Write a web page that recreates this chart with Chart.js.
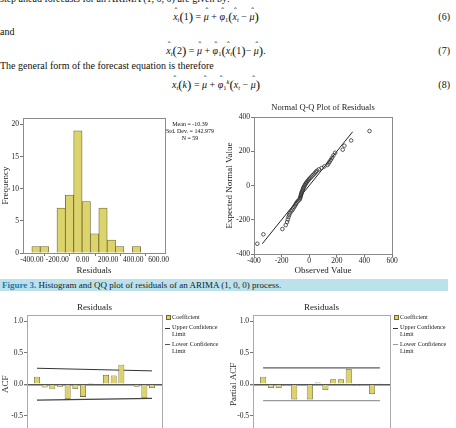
<!DOCTYPE html>
<html>
<head>
<meta charset="utf-8">
<script src="https://cdn.jsdelivr.net/npm/chart.js@4.4.1/dist/chart.umd.min.js"></script>
<style>
  body { margin: 0; width: 456px; height: 428px; overflow: hidden; background: #fff;
         font-family: "Liberation Serif", serif; color: #111; position: relative; }
  .abs { position: absolute; }
  .txt { position: absolute; left: 0; font-size: 10px; line-height: 12px; white-space: nowrap; }
  .eq { position: absolute; left: 0; width: 432px; text-align: center; font-size: 10px; line-height: 12px; white-space: nowrap; }
  .eq i { font-style: italic; }
  .eq sub { font-size: 6.5px; vertical-align: -2px; line-height: 0; }
  .eq sup { font-size: 6.5px; vertical-align: 4px; line-height: 0; }
  .eq .p { font-size: 13px; vertical-align: -1px; }
  .h { position: relative; display: inline-block; }
  .h::before { content: "\02C6"; position: absolute; left: 1px; right: 0; top: -3px; text-align: center;
               font-style: normal; font-size: 8px; line-height: 8px; }
  .num { position: absolute; right: 6px; font-size: 10px; line-height: 12px; }
  .caption { position: absolute; left: 0; top: 279px; width: 448px; height: 12px; background: #bbe1eb;
             font-size: 9px; line-height: 12px; white-space: nowrap; padding-left: 2px; box-sizing: border-box; color: #1a1a1a; }
  .caption b { color: #2679ae; }
  .stats { position: absolute; left: 160px; width: 60px; top: 121px; text-align: center; font-size: 6px; line-height: 7px; }
  .leg { position: absolute; font-size: 6.2px; line-height: 6.5px; color: #222; }
  .leg .sq { position: absolute; width: 3px; height: 3px; background: rgb(220,211,108); border: 0.8px solid #6e682d; }
  .leg .ln { position: absolute; width: 5px; height: 0; border-top: 1px solid #333; }
  .leg .t { position: absolute; white-space: nowrap; }
</style>
</head>
<body>

<div class="txt" style="top:-7px">step ahead forecasts for an ARIMA (1, 0, 0) are given by:</div>
<div class="eq" style="top:11px"><i class="h">x</i><sub><i>t</i></sub><span class="p">(</span>1<span class="p">)</span> = <i class="h">&mu;</i> + <i class="h">&phi;</i><sub>1</sub><span class="p">(</span><i class="h">x</i><sub><i>t</i></sub> &minus; <i class="h">&mu;</i><span class="p">)</span></div>
<div class="num" style="top:11px">(6)</div>
<div class="txt" style="top:26px">and</div>
<div class="eq" style="top:45px"><i class="h">x</i><sub><i>t</i></sub><span class="p">(</span>2<span class="p">)</span> = <i class="h">&mu;</i> + <i class="h">&phi;</i><sub>1</sub><span class="p">(</span><i class="h">x</i><sub><i>t</i></sub><span class="p">(</span>1<span class="p">)</span>&minus; <i class="h">&mu;</i><span class="p">)</span>.</div>
<div class="num" style="top:45px">(7)</div>
<div class="txt" style="top:60px">The general form of the forecast equation is therefore</div>
<div class="eq" style="top:79px"><i class="h">x</i><sub><i>t</i></sub><span class="p">(</span><i>k</i><span class="p">)</span> = <i class="h">&mu;</i> + <i class="h">&phi;</i><sub>1</sub><sup><i>k</i></sup><span class="p">(</span><i>x</i><sub><i>t</i></sub> &minus; <i class="h">&mu;</i><span class="p">)</span></div>
<div class="num" style="top:79px">(8)</div>

<canvas id="hist" class="abs" width="230" height="166" style="left:0;top:110px"></canvas>
<div class="stats" id="stats"></div>
<canvas id="qq" class="abs" width="232" height="176" style="left:224px;top:100px"></canvas>

<div class="caption"><b>Figure 3.</b> Histogram and QQ plot of residuals of an ARIMA (1, 0, 0) process.</div>

<canvas id="acf" class="abs" width="228" height="200" style="left:0;top:293px"></canvas>
<canvas id="pacf" class="abs" width="228" height="200" style="left:228px;top:293px"></canvas>

<div class="leg" style="left:165px;top:313px">
  <div class="sq" style="left:1px;top:2px"></div><div class="t" style="left:7px;top:1px">Coefficient</div>
  <div class="ln" style="left:0;top:14.5px"></div><div class="t" style="left:7px;top:11px">Upper Confidence<br>Limit</div>
  <div class="ln" style="left:0;top:31px;border-color:#555"></div><div class="t" style="left:7px;top:28px">Lower Confidence<br>Limit</div>
</div>
<div class="leg" style="left:393px;top:313px">
  <div class="sq" style="left:1px;top:2px"></div><div class="t" style="left:7px;top:1px">Coefficient</div>
  <div class="ln" style="left:0;top:14.5px"></div><div class="t" style="left:7px;top:11px">Upper Confidence<br>Limit</div>
  <div class="ln" style="left:0;top:31px;border-color:#999"></div><div class="t" style="left:7px;top:28px">Lower Confidence<br>Limit</div>
</div>

<script>
// histogram of residuals
const histBinCenters = [-367, -301, -235, -169, -103, -37, 29, 95, 161, 227, 293, 359, 425];
const histCounts = [1, 1, 0, 7, 9, 19, 8, 3, 7, 2, 1, 0, 1];
const histXTicks = [-400, -200, 0, 200, 400, 600];
const histYTicks = [0, 5, 10, 15, 20];
const histStats = ["Mean = -10.39", "Std. Dev. = 142.979", "N = 59"];

// normal Q-Q plot (sorted residuals vs expected normal value)
const qqObserved = [-376, -332, -194, -170, -160, -155, -150, -145, -140, -130, -122, -115, -108, -102, -97,
  -92, -85, -76, -68, -66, -63, -61, -59, -57, -55, -52, -49, -46, -43, -40, -36, -32, -28, -23, -18, -12, -6,
  0, 8, 16, 24, 32, 40, 48, 57, 70, 90, 110, 132, 140, 148, 157, 166, 176, 188, 243, 255, 304, 437];
const qqExpected = [-340, -285, -254, -231, -213, -198, -184, -172, -161, -151, -142, -133, -124, -116, -108,
  -101, -93, -86, -80, -73, -66, -60, -53, -47, -41, -35, -29, -23, -16, -10, -5, 2, 8, 14, 20, 26, 32,
  39, 45, 52, 59, 65, 72, 80, 87, 95, 103, 112, 121, 130, 140, 151, 163, 177, 192, 210, 233, 264, 319];
const qqLineEnds = [-340, 315];
const qqXTicks = [-400, -200, 0, 200, 400, 600];
const qqYTicks = [-400, -200, 0, 200, 400];

// ACF / PACF of residuals
const lags = [1, 2, 3, 4, 5, 6, 7, 8, 9, 10, 11, 12, 13, 14, 15, 16];
const acfValues = [0.12, -0.05, -0.08, -0.04, -0.235, -0.075, -0.20, 0.02, -0.015, 0.15, 0.14, 0.31, 0.0, -0.04, -0.22, -0.06];
const acfLimitLags = [1, 16];
const acfUpper = [0.255, 0.213];
const acfLower = [-0.25, -0.222];
const pacfValues = [0.12, -0.06, -0.06, -0.025, -0.24, -0.02, -0.24, 0.03, -0.09, 0.08, 0.08, 0.245, -0.025, -0.01, -0.155, 0.015];
const pacfUpper = [0.26, 0.26];
const pacfLower = [-0.26, -0.26];
const corrTicks = [-1.0, -0.5, 0.0, 0.5, 1.0];

Chart.defaults.font.family = "'Liberation Serif', serif";
Chart.defaults.color = "#222";

const barFill = "rgb(220,211,108)";
const barEdge = "#6e682d";

const frame = {
  id: "frame",
  beforeDatasetsDraw(chart, args, opts) {
    const a = chart.chartArea, ctx = chart.ctx;
    ctx.save();
    ctx.strokeStyle = opts.color || "#888";
    ctx.lineWidth = 1;
    ctx.strokeRect(Math.round(a.left) + 0.5, Math.round(a.top) + 0.5,
      Math.round(a.right - a.left), Math.round(a.bottom - a.top));
    ctx.restore();
  }
};

const setTicks = vals => s => { s.ticks = vals.map(v => ({ value: v })); };
const fixW = w => s => { s.width = w; };
const fixH = h => s => { s.height = h; };
const tickFont = { size: 7.5 };
const titleFont = { size: 9 };
const plainGrid = { drawOnChartArea: false, drawTicks: true, tickLength: 3, color: "#777" };

document.getElementById("stats").innerHTML = histStats.join("<br>");

new Chart(document.getElementById("hist"), {
  type: "bar",
  data: {
    datasets: [{
      data: histBinCenters.map((x, i) => ({ x: x, y: histCounts[i] })),
      backgroundColor: barFill, borderColor: barEdge, borderWidth: 0.8,
      barPercentage: 1, categoryPercentage: 1
    }]
  },
  options: {
    responsive: false, animation: false, devicePixelRatio: 1,
    layout: { padding: { top: 8, right: 65, bottom: 0, left: 0 } },
    plugins: { legend: { display: false }, tooltip: { enabled: false }, frame: { color: "#8a8a8a" } },
    scales: {
      x: {
        type: "linear", offset: false, min: -470, max: 650,
        afterBuildTicks: setTicks(histXTicks), afterFit: fixH(23),
        grid: plainGrid, border: { display: false },
        ticks: { font: tickFont, padding: 0, maxRotation: 0, autoSkip: false, callback: v => v.toFixed(2) },
        title: { display: true, text: "Residuals", font: titleFont, padding: 0 }
      },
      y: {
        min: 0, max: 21,
        afterBuildTicks: setTicks(histYTicks), afterFit: fixW(23),
        grid: plainGrid, border: { display: false },
        ticks: { font: tickFont, padding: 1 },
        title: { display: true, text: "Frequency", font: titleFont, padding: 0 }
      }
    }
  },
  plugins: [frame]
});

new Chart(document.getElementById("qq"), {
  type: "scatter",
  data: {
    datasets: [{
      data: qqObserved.map((x, i) => ({ x: x, y: qqExpected[i] })),
      pointRadius: 1.8, pointBorderWidth: 0.8, pointBackgroundColor: "rgba(255,255,255,0)",
      pointBorderColor: "#333"
    }, {
      type: "line",
      data: qqLineEnds.map(v => ({ x: v, y: v })),
      borderColor: "#222", borderWidth: 1, pointRadius: 0, showLine: true
    }]
  },
  options: {
    responsive: false, animation: false, devicePixelRatio: 1,
    layout: { padding: { top: 0, right: 64, bottom: 0, left: 0 } },
    plugins: {
      legend: { display: false }, tooltip: { enabled: false }, frame: { color: "#8a8a8a" },
      title: { display: true, fullSize: false, text: "Normal Q-Q Plot of Residuals", font: { size: 8.5, weight: "normal" },
               color: "#222", padding: { top: 3, bottom: 4 } }
    },
    scales: {
      x: {
        type: "linear", min: -400, max: 600,
        afterBuildTicks: setTicks(qqXTicks), afterFit: fixH(22),
        grid: plainGrid, border: { display: false },
        ticks: { font: tickFont, padding: 0, maxRotation: 0, autoSkip: false },
        title: { display: true, text: "Observed Value", font: titleFont, padding: 0 }
      },
      y: {
        min: -400, max: 400,
        afterBuildTicks: setTicks(qqYTicks), afterFit: fixW(30),
        grid: plainGrid, border: { display: false },
        ticks: { font: tickFont, padding: 1 },
        title: { display: true, text: "Expected Normal Value", font: titleFont, padding: 0 }
      }
    }
  },
  plugins: [frame]
});

function corrChart(id, values, upper, lower, lowerColor, yTitle, yWidth) {
  new Chart(document.getElementById(id), {
    type: "bar",
    data: {
      datasets: [{
        data: lags.map((l, i) => ({ x: l, y: values[i] })),
        backgroundColor: barFill, borderColor: barEdge, borderWidth: 0.8,
        barPercentage: 0.78, categoryPercentage: 1
      }, {
        type: "line", data: acfLimitLags.map((l, i) => ({ x: l, y: upper[i] })),
        borderColor: "#333", borderWidth: 1, pointRadius: 0
      }, {
        type: "line", data: acfLimitLags.map((l, i) => ({ x: l, y: lower[i] })),
        borderColor: lowerColor, borderWidth: 1.2, pointRadius: 0
      }]
    },
    options: {
      responsive: false, animation: false, devicePixelRatio: 1,
      layout: { padding: { top: 0, right: 66, bottom: 0, left: 0 } },
      plugins: {
        legend: { display: false }, tooltip: { enabled: false }, frame: { color: "#aaa" },
        title: { display: true, fullSize: false, text: "Residuals", font: { size: 9, weight: "normal" },
                 color: "#222", padding: { top: 9.6, bottom: 1.6 } }
      },
      scales: {
        x: {
          type: "linear", offset: false, min: -0.3, max: 17.3,
          afterBuildTicks: setTicks(lags), afterFit: fixH(39.4),
          grid: plainGrid, border: { display: false },
          ticks: { font: tickFont, padding: 1, maxRotation: 0, autoSkip: false }
        },
        y: {
          min: -1.1, max: 1.1,
          afterBuildTicks: setTicks(corrTicks), afterFit: fixW(yWidth),
          grid: {
            drawOnChartArea: true, drawTicks: true, tickLength: 3, tickColor: "#777",
            color: c => (c.tick && c.tick.value === 0) ? "#555" : "rgba(0,0,0,0)",
            lineWidth: c => (c.tick && c.tick.value === 0) ? 1.4 : 1
          },
          border: { display: false },
          ticks: { font: tickFont, padding: 1, callback: v => v.toFixed(1) },
          title: { display: true, text: yTitle, font: titleFont, padding: 0 }
        }
      }
    },
    plugins: [frame]
  });
}

corrChart("acf", acfValues, acfUpper, acfLower, "#444", "ACF", 27);
corrChart("pacf", pacfValues, pacfUpper, pacfLower, "#999", "Partial ACF", 25);
</script>
</body>
</html>
